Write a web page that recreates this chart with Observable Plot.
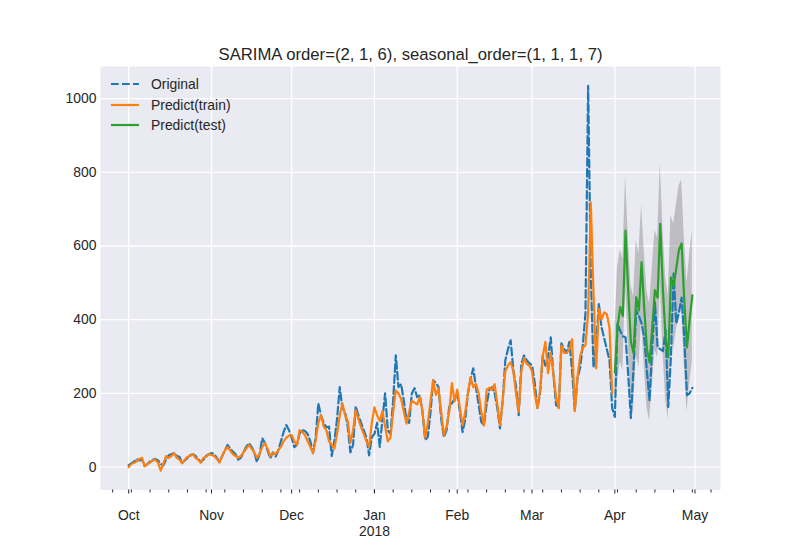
<!DOCTYPE html>
<html>
<head>
<meta charset="utf-8">
<script src="https://cdn.jsdelivr.net/npm/d3@7"></script>
<script src="https://cdn.jsdelivr.net/npm/@observablehq/plot@0.6"></script>
<style>
  html, body { margin: 0; padding: 0; background: white; }
  #wrap { position: relative; width: 800px; height: 550px; font-family: "Liberation Sans", Arial, sans-serif; color: #262626; }
  #legend { position: absolute; left: 111px; top: 74px; font-size: 13.9px; line-height: 20.5px; }
  #legend .row { display: flex; align-items: center; height: 20.5px; }
  #legend svg { margin-right: 12px; }
</style>
</head>
<body>
<div id="wrap"><div id="legend"></div></div>
<script>
// ---- data (daily, starting 2017-10-01) ----
const startDate = "2017-10-01";
const original = [
  5, 10, 15, 22, 18, 20, 3,
  8, 15, 20, 22, 18, 8, 5,
  20, 32, 35, 38, 30, 28, 11,
  18, 25, 32, 35, 30, 22, 14,
  20, 30, 35, 38, 35, 25, 14,
  30, 45, 60, 50, 42, 35, 20,
  25, 40, 55, 65, 55, 40, 14,
  35, 78, 65, 45, 24, 40, 28,
  45, 70, 95, 114, 100, 80, 54,
  60, 92, 100, 98, 90, 70, 38,
  80, 173, 140, 120, 108, 110, 30,
  70, 130, 217, 160, 150, 110, 40,
  60, 165, 140, 120, 100, 80, 32,
  81, 90, 120, 55, 130, 200, 100,
  90, 180, 303, 217, 225, 180, 127,
  120, 200, 214, 190, 195, 150, 73,
  83, 150, 236, 228, 217, 130, 81,
  100, 163, 173, 185, 200, 150, 95,
  130, 200, 240, 268, 217, 170, 122,
  114, 170, 209, 217, 200, 160, 105,
  180, 290, 320, 344, 263, 220, 141,
  280, 303, 290, 282, 276, 230, 160,
  200, 303, 275, 300, 352, 250, 168,
  163, 336, 320, 310, 340, 260, 154,
  240, 270, 330, 417, 1035, 520, 270,
  330, 444, 380, 350, 320, 290, 160,
  136, 390, 370, 355, 352, 250, 133,
  270, 425, 410, 390, 352, 260, 180,
  330, 447, 325, 320, 315, 371, 163,
  300, 525, 390, 420, 460, 350, 195,
  200, 215
];
const predictTrain = [
  0, 8, 12, 15, 22, 25, 2,
  8, 12, 18, 20, 12, -10, 10,
  30, 25, 30, 38, 25, 20, 10,
  20, 28, 30, 35, 25, 20, 12,
  25, 28, 35, 33, 30, 22, 12,
  30, 45, 55, 45, 35, 30, 25,
  30, 40, 50, 60, 50, 40, 25,
  35, 55, 65, 50, 30, 38, 35,
  46, 55, 70, 80, 85, 87, 70,
  60, 100, 95, 87, 70, 55, 38,
  73, 120, 141, 110, 100, 70, 60,
  50, 90, 140, 173, 140, 125, 65,
  100, 154, 130, 108, 90, 70, 54,
  120, 162, 140, 125, 152, 110, 70,
  80, 150, 208, 200, 185, 150, 118,
  150, 180, 175, 170, 190, 150, 80,
  120, 180, 236, 196, 213, 150, 86,
  110, 150, 228, 178, 210, 160, 113,
  150, 200, 244, 217, 225, 200, 150,
  113, 210, 215, 210, 225, 170, 113,
  180, 260, 276, 285, 260, 200, 150,
  260, 296, 280, 275, 260, 200, 160,
  208, 300, 340, 255, 310, 250, 190,
  160, 330, 310, 310, 320, 347, 152,
  245, 300, 325, 330, 420, 718, 475,
  268, 430, 400, 420, 415, 378, 200
];
const predictTest = [
  257, 380, 434, 410, 642, 480, 340,
  309, 461, 425, 556, 430, 320, 284,
  380, 480, 460, 660, 480, 350, 298,
  515, 490, 540, 590, 607, 450, 325,
  400, 466
];
const testLower = [
  150, 230, 285, 262, 495, 330, 190,
  157, 305, 270, 400, 273, 162, 125,
  220, 318, 297, 495, 315, 184, 130,
  346, 320, 370, 418, 434, 276, 150,
  224, 288
];
const testUpper = [
  370, 540, 590, 565, 790, 632, 495,
  463, 615, 580, 712, 588, 478, 443,
  540, 642, 623, 825, 646, 516, 466,
  684, 660, 710, 762, 780, 624, 500,
  576, 644
];
const yTicks = [0, 200, 400, 600, 800, 1000];
const title = "SARIMA order=(2, 1, 6), seasonal_order=(1, 1, 1, 7)";
const seriesNames = ["Original", "Predict(train)", "Predict(test)"];
const seriesColors = ["#1f77b4", "#ff7f0e", "#2ca02c"];

// ---- build rows ----
const t0 = new Date(startDate + "T00:00:00Z");
const dayAt = i => d3.utcDay.offset(t0, i);
const origRows = original.map((v, i) => ({date: dayAt(i), value: v}));
const trainRows = predictTrain.map((v, i) => ({date: dayAt(i), value: v}));
const testOffset = predictTrain.length;
const testRows = predictTest.map((v, i) => ({date: dayAt(testOffset + i), value: v, lower: testLower[i], upper: testUpper[i]}));

const n = original.length - 1;
const pad = n * 0.05;
const xDomain = [new Date(+t0 - pad * 864e5), new Date(+t0 + (n + pad) * 864e5)];
const allY = original.concat(predictTrain, testLower, testUpper);
const yMin = d3.min(allY), yMax = d3.max(allY), yPad = (yMax - yMin) * 0.05;

const monthTicks = d3.utcMonth.range(d3.utcMonth.ceil(xDomain[0]), xDomain[1]);
const weekTicks = d3.utcMonday.range(d3.utcMonday.ceil(xDomain[0]), xDomain[1]);
const yearTicks = d3.utcYear.range(d3.utcYear.ceil(xDomain[0]), xDomain[1]);

const chart = Plot.plot({
  width: 800,
  height: 550,
  marginLeft: 100,
  marginRight: 80,
  marginTop: 66,
  marginBottom: 60.5,
  style: {background: "white", fontFamily: "'Liberation Sans', Arial, sans-serif", fontSize: "13.9px", color: "#262626"},
  x: {type: "utc", domain: xDomain},
  y: {domain: [yMin - yPad, yMax + yPad]},
  marks: [
    Plot.frame({fill: "#EAEAF2", stroke: "none"}),
    Plot.gridX(monthTicks, {stroke: "white", strokeOpacity: 1, strokeWidth: 1.3}),
    Plot.gridY(yTicks, {stroke: "white", strokeOpacity: 1, strokeWidth: 1.3}),
    Plot.areaY(testRows, {x: "date", y1: "lower", y2: "upper", fill: "#808080", fillOpacity: 0.42, curve: "linear"}),
    Plot.line(origRows, {x: "date", y: "value", stroke: seriesColors[0], strokeWidth: 2.2, strokeDasharray: "7.7,3.3", strokeLinejoin: "round"}),
    Plot.line(trainRows, {x: "date", y: "value", stroke: seriesColors[1], strokeWidth: 2.2, strokeLinejoin: "round"}),
    Plot.line(testRows, {x: "date", y: "value", stroke: seriesColors[2], strokeWidth: 2.2, strokeLinejoin: "round"}),
    Plot.axisX(weekTicks, {tickSize: 3, tickFormat: () => "", label: null, stroke: "#262626"}),
    Plot.axisX(monthTicks, {tickSize: 4, tickPadding: 16, tickFormat: "%b", label: null, stroke: "#262626", fill: "#262626"}),
    Plot.axisX(yearTicks, {tickSize: 0, tickPadding: 36, tickFormat: "%Y", label: null, fill: "#262626"}),
    Plot.axisY(yTicks, {tickSize: 0, tickPadding: 4, tickFormat: d => String(d), label: null, fill: "#262626"}),
    Plot.text([title], {frameAnchor: "top", lineAnchor: "bottom", dy: -7, fontSize: 16.7, fill: "#262626"})
  ]
});
const wrap = document.getElementById("wrap");
wrap.insertBefore(chart, wrap.firstChild);

// ---- legend ----
const legend = document.getElementById("legend");
seriesNames.forEach((name, i) => {
  const row = document.createElement("div");
  row.className = "row";
  const dash = i === 0 ? 'stroke-dasharray="7.7,3.3"' : "";
  row.innerHTML = `<svg width="28" height="6"><line x1="0" y1="3" x2="28" y2="3" stroke="${seriesColors[i]}" stroke-width="2.2" ${dash}/></svg><span>${name}</span>`;
  legend.appendChild(row);
});
</script>
</body>
</html>
